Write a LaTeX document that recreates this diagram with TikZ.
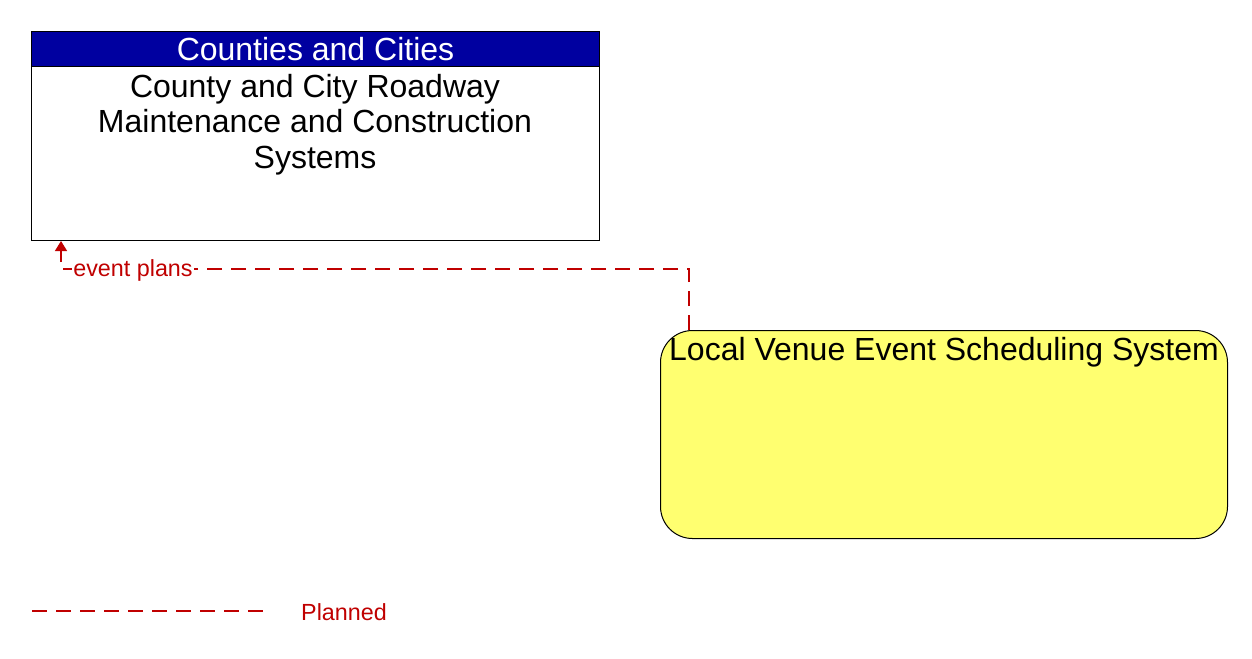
\documentclass[tikz,border=0pt]{standalone}
\usepackage{fontspec}
\setmainfont{Liberation Sans}
\usetikzlibrary{arrows.meta,positioning,calc}
\definecolor{hdrblue}{RGB}{0,0,160}
\definecolor{plannedred}{RGB}{192,0,0}
\definecolor{venueyellow}{RGB}{255,255,112}
\tikzset{
  sysbox/.style={draw=black, line width=0.75pt, fill=white, minimum width=426pt, minimum height=156.75pt, anchor=north west, inner sep=0pt},
  hdrbox/.style={draw=black, line width=0.75pt, fill=hdrblue, minimum width=426pt, minimum height=26.25pt, anchor=north west, inner sep=0pt, text=white, font=\fontsize{24}{26.6}\selectfont},
  bodytext/.style={align=center, font=\fontsize{24}{26.6}\selectfont, inner sep=0pt},
  venuebox/.style={draw=black, line width=0.75pt, fill=venueyellow, rounded corners=24pt, minimum width=425.25pt, minimum height=156pt, anchor=north west, inner sep=0pt},
  planned/.style={draw=plannedred, line width=1pt, dash pattern=on 11.25pt off 6.75pt},
  flowlabel/.style={text=plannedred, fill=white, inner sep=1pt, font=\fontsize{17.5}{20}\selectfont},
}
\begin{document}
\begin{tikzpicture}[x=0.75pt,y=-0.75pt]
\useasboundingbox (0,0) rectangle (1252,658);
\node[sysbox] (top) at (31,31) {};
\node[hdrbox] (hdr) at (31,31) {Counties and Cities};
\node[bodytext, anchor=north] (toptext) at (315,74) {County and City Roadway\\Maintenance and Construction\\Systems};
\node[venuebox] (venue) at (660,330) {};
\node[bodytext] (venuetext) at (944,352) {Local Venue Event Scheduling System};
\coordinate (start) at ([xshift=21.75pt]venue.north west);
\coordinate (bend) at (61,269);
\path[planned, -{Triangle[width=9pt,length=7.5pt]}, fill=none] (start) |- (bend) -- (bend |- top.south);
\node[flowlabel] (lbl) at (133,270) {event plans};
\coordinate (legA) at (32,611);
\coordinate (legB) at (265,611);
\path[planned] (legA) -- (legB);
\node[flowlabel] (legtext) at (344,612) {Planned};
\end{tikzpicture}
\end{document}
